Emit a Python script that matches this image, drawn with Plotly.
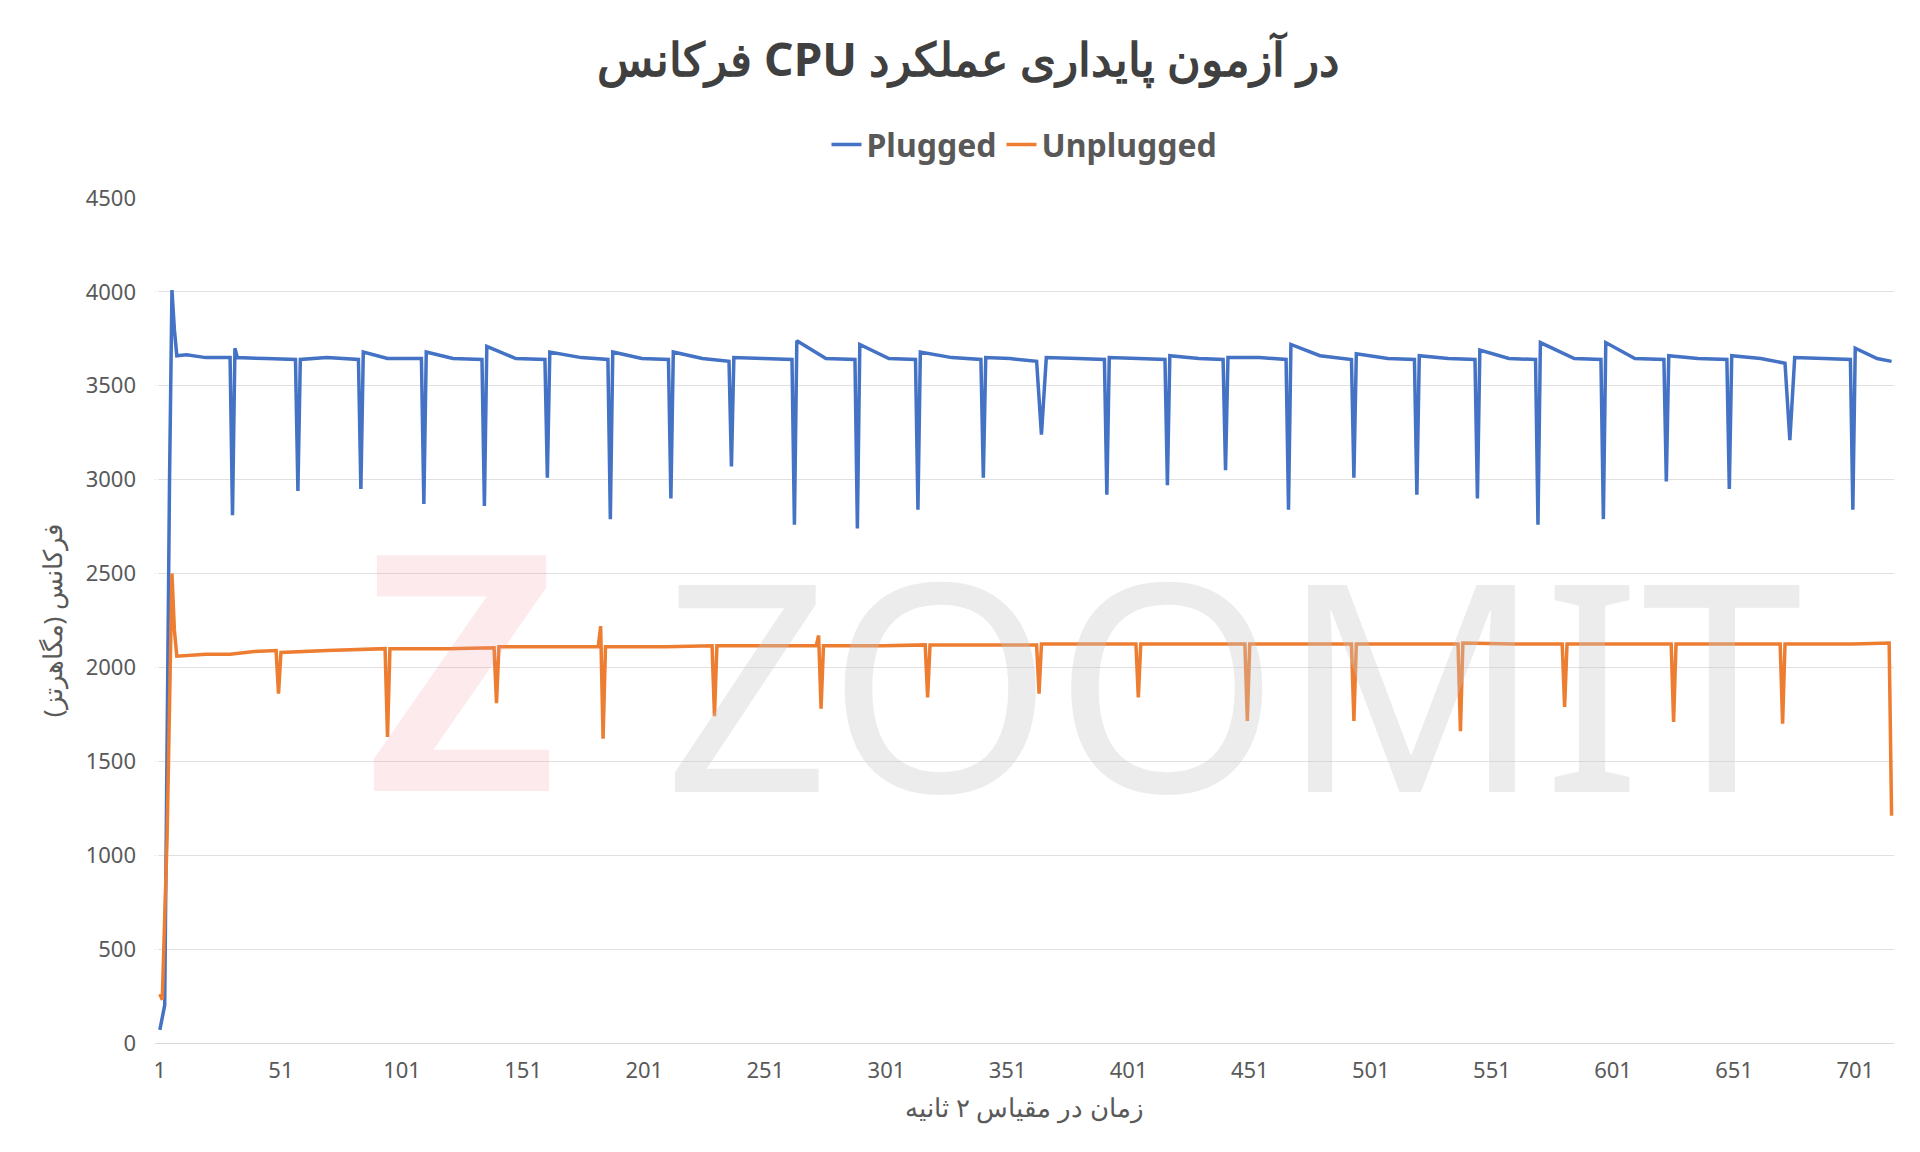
import plotly.graph_objects as go

# Plugged series (key points)
plugged_x = [1, 3, 5, 6, 7, 8, 12, 20, 30, 31, 32, 33, 45, 57, 58, 59, 70, 83, 84, 85, 95, 109, 110, 111, 122,
             134, 135, 136, 148, 160, 161, 162, 175, 186, 187, 188, 200, 211, 212, 213, 225, 236, 237, 238, 250,
             262, 263, 264, 276, 288, 289, 290, 302, 313, 314, 315, 328, 340, 341, 342, 352, 363, 365, 367, 380,
             391, 392, 393, 405, 416, 417, 418, 430, 440, 441, 442, 455, 466, 467, 468, 480, 493, 494, 495, 508,
             519, 520, 521, 533, 544, 545, 546, 558, 569, 570, 571, 585, 596, 597, 598, 610, 622, 623, 624, 636,
             648, 649, 650, 662, 672, 674, 676, 688, 699, 700, 701, 710, 716]
plugged_y = [70, 200, 3000, 4010, 3800, 3660, 3665, 3650, 3650, 2810, 3700, 3650, 3645, 3640, 2940, 3640, 3650,
             3640, 2950, 3680, 3645, 3645, 2870, 3680, 3645, 3640, 2860, 3710, 3645, 3640, 3010, 3680, 3650,
             3640, 2790, 3680, 3645, 3640, 2900, 3680, 3645, 3630, 3070, 3650, 3645, 3640, 2760, 3740, 3645,
             3640, 2740, 3720, 3645, 3640, 2840, 3680, 3650, 3640, 3010, 3650, 3645, 3630, 3240, 3650, 3645,
             3640, 2920, 3650, 3645, 3640, 2970, 3660, 3645, 3640, 3050, 3650, 3650, 3640, 2840, 3720, 3660,
             3640, 3010, 3670, 3645, 3640, 2920, 3660, 3645, 3640, 2900, 3690, 3645, 3640, 2760, 3730, 3645,
             3640, 2790, 3730, 3645, 3640, 2990, 3660, 3645, 3640, 2950, 3660, 3645, 3620, 3210, 3650, 3645,
             3640, 2840, 3700, 3645, 3630]

# Unplugged series
unplugged_x = [1, 2, 4, 6, 7, 8, 20, 30, 40, 49, 50, 51, 70, 94, 95, 96, 120, 139, 140, 141, 160, 182, 183, 184,
               185, 210, 229, 230, 231, 255, 272, 273, 274, 275, 300, 317, 318, 319, 345, 363, 364, 365, 385,
               404, 405, 406, 430, 449, 450, 451, 475, 493, 494, 495, 520, 537, 538, 539, 560, 580, 581, 582,
               605, 625, 626, 627, 650, 670, 671, 672, 700, 715, 716]
unplugged_y = [260, 230, 1100, 2500, 2200, 2060, 2070, 2070, 2085, 2090, 1860, 2080, 2090, 2100, 1630, 2100,
               2100, 2105, 1810, 2110, 2110, 2110, 2220, 1620, 2110, 2110, 2115, 1740, 2115, 2115, 2115, 2170,
               1780, 2115, 2115, 2120, 1840, 2120, 2120, 2120, 1860, 2125, 2125, 2125, 1840, 2125, 2125, 2125,
               1715, 2125, 2125, 2125, 1715, 2125, 2125, 2125, 1660, 2130, 2125, 2125, 1790, 2125, 2125, 2125,
               1710, 2125, 2125, 2125, 1700, 2125, 2125, 2130, 1210]

x_ticks = list(range(1, 702, 50))

fig = go.Figure()
fig.add_trace(go.Scatter(x=plugged_x, y=plugged_y, mode="lines", name="<b>Plugged</b>",
                         line=dict(color="#4472C4", width=3.5)))
fig.add_trace(go.Scatter(x=unplugged_x, y=unplugged_y, mode="lines", name="<b>Unplugged</b>",
                         line=dict(color="#ED7D31", width=3.5)))

fig.update_layout(
    width=1920, height=1152,
    paper_bgcolor="white", plot_bgcolor="white",
    font=dict(family="Noto Sans", color="#595959"),
    margin=dict(l=147, r=34, t=190, b=117),
    title=dict(text="<b>فرکانس CPU در آزمون پایداری عملکرد</b>", x=0.5, y=0.955, xanchor="center",
               yanchor="middle", font=dict(size=46, color="#404040")),
    legend=dict(orientation="h", x=0.5, xanchor="center", y=1.063, yanchor="middle",
                font=dict(size=32, color="#595959"), itemwidth=30),
    annotations=[
        dict(text="ZOOMIT", x=0.62, y=0.43, xref="paper", yref="paper", showarrow=False,
             font=dict(size=290, color="rgba(200,200,200,0.35)", family="Noto Sans")),
        dict(text="<b>Z</b>", x=0.12, y=0.45, xref="paper", yref="paper", showarrow=False,
             font=dict(size=330, color="rgba(240,150,160,0.2)", family="Noto Sans")),
    ],
)
fig.update_xaxes(range=[-1, 717], tickvals=x_ticks, showgrid=False, showline=True,
                 linecolor="#d9d9d9", ticks="", tickfont=dict(size=22), ticklabelstandoff=8,
                 title=dict(text="زمان در مقیاس ۲ ثانیه", font=dict(size=26)))
fig.update_yaxes(range=[0, 4500], dtick=500, gridcolor="#e0e0e0", zeroline=False,
                 tickfont=dict(size=22), ticklabelstandoff=18,
                 title=dict(text="فرکانس (مگاهرتز)", font=dict(size=26)))

fig.write_html("out.html")
